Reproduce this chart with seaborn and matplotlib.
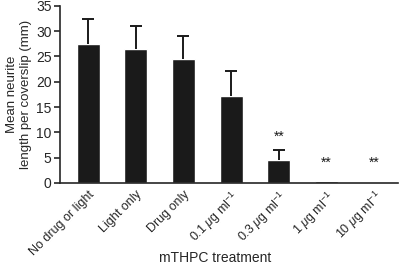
import numpy as np
import pandas as pd
import matplotlib
matplotlib.use("Agg")
import matplotlib.pyplot as plt
import seaborn as sns

treatments = ["No drug or light", "Light only", "Drug only",
              r"0.1 $\mu$g ml$^{-1}$", r"0.3 $\mu$g ml$^{-1}$",
              r"1 $\mu$g ml$^{-1}$", r"10 $\mu$g ml$^{-1}$"]
mean_length = [27.5, 26.5, 24.4, 17.1, 4.5, 0.3, 0.0]
sem_upper = [4.9, 4.5, 4.7, 5.1, 2.0, 0.0, 0.0]
stars = ["", "", "", "", "**", "**", "**"]
star_y = [0, 0, 0, 0, 9.2, 4.0, 4.0]

sns.set_theme(style="ticks")
plt.rcParams.update({
    "font.family": ["Liberation Sans", "DejaVu Sans"],
    "mathtext.fontset": "custom",
    "mathtext.rm": "Liberation Sans",
    "mathtext.it": "Liberation Sans:italic",
    "axes.linewidth": 1.2,
})

df = pd.DataFrame({"treatment": treatments, "length": mean_length})

fig = plt.figure(figsize=(4.0, 2.67), dpi=100)
ax = fig.add_axes([0.15, 0.315, 0.845, 0.663])

sns.barplot(data=df, x="treatment", y="length", color="#1a1a1a",
            saturation=1, width=0.48, errorbar=None, ax=ax)

# upper error bars only
xs = np.arange(len(treatments))
tops = np.array(mean_length) + np.array(sem_upper)
has_err = np.array(sem_upper) > 0
ax.vlines(xs[has_err], np.array(mean_length)[has_err], tops[has_err],
          color="#1a1a1a", lw=1.4)
ax.plot(xs[has_err], tops[has_err], ls="none", marker="_", ms=9,
        mew=1.4, color="#1a1a1a")
for x, s, y in zip(xs, stars, star_y):
    if s:
        ax.text(x, y, s, ha="center", va="center", fontsize=10, color="#1a1a1a")

ax.set_xlim(-0.59, 6.5)
ax.set_ylim(0, 35)
ax.set_yticks(range(0, 36, 5))
ax.set_ylabel("Mean neurite\nlength per coverslip (mm)", fontsize=9.5,
              labelpad=3)
ax.set_xlabel("mTHPC treatment", fontsize=10)
ax.xaxis.set_label_coords(0.46, -0.385)
ax.tick_params(axis="y", labelsize=10, length=4, width=1.2, pad=2)
ax.tick_params(axis="x", labelsize=9, length=0, pad=4)
plt.setp(ax.get_xticklabels(), rotation=45, ha="right",
         rotation_mode="anchor")
sns.despine(ax=ax)

fig.savefig("out.png", dpi=100, facecolor="white")
